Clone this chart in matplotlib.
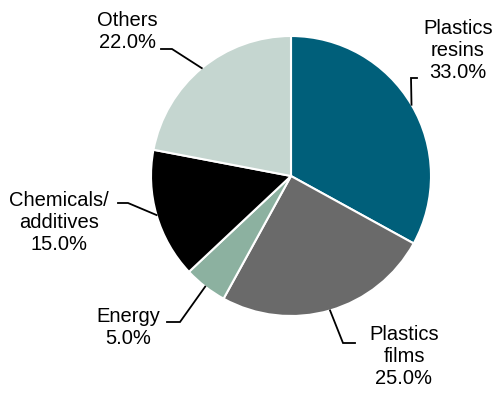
import numpy as np
import matplotlib
matplotlib.use('Agg')
import matplotlib.pyplot as plt

plt.rcParams['font.family'] = ['Liberation Sans', 'DejaVu Sans']

# 各部分占比
labels = ['Plastics\nresins', 'Plastics\nfilms', 'Energy', 'Chemicals/\nadditives', 'Others']
shares = [33.0, 25.0, 5.0, 15.0, 22.0]
colors = ['#005f7a', '#6a6a6a', '#8cb1a0', '#000000', '#c5d6d0']

# 画布按像素坐标来布置 (y 轴向上)
W, H = 497, 396
cx, cy, r = 291, H - 176, 140

# 引线拐点和文字位置 (像素)
elbows = [(411, H - 78), (343, H - 343), (180, H - 322), (128, H - 203), (172, H - 49)]
tails = [(417, H - 78), (355, H - 343), (167, H - 322), (118, H - 203), (161, H - 49)]
text_xy = [(458, H - 50), (404, H - 357), (128, H - 328), (59, H - 222), (127, H - 32)]

fig = plt.figure(figsize=(W / 100, H / 100), dpi=100)
ax = fig.add_axes([0, 0, 1, 1])

wedges, _ = ax.pie(shares, colors=colors, startangle=90, counterclock=False,
                   center=(cx, cy), radius=r,
                   wedgeprops=dict(edgecolor='white', linewidth=1.5))

# pie 会改坐标范围，之后再设回像素范围
ax.set_xlim(0, W)
ax.set_ylim(0, H)
ax.set_aspect('equal')
ax.axis('off')

for w, lab, val, e, t, p in zip(wedges, labels, shares, elbows, tails, text_xy):
    mid = np.deg2rad((w.theta1 + w.theta2) / 2)
    x0, y0 = cx + r * np.cos(mid), cy + r * np.sin(mid)
    ax.plot([x0, e[0], t[0]], [y0, e[1], t[1]], color='black', lw=1.3,
            solid_joinstyle='miter')
    ax.text(p[0], p[1], '{}\n{:.1f}%'.format(lab, val), ha='center', va='center',
            fontsize=14.5, linespacing=1.2)

fig.savefig('out.png', dpi=100)
